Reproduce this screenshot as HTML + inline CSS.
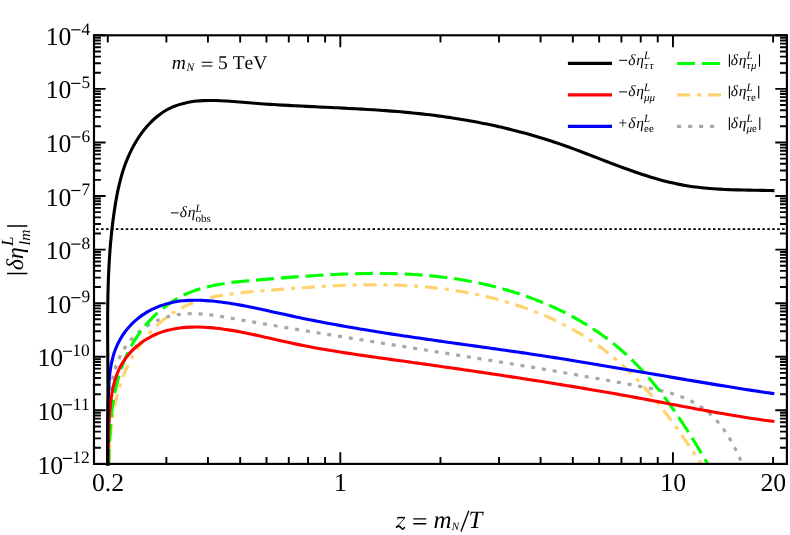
<!DOCTYPE html>
<html><head><meta charset="utf-8"><title>plot</title>
<style>
html,body{margin:0;padding:0;background:#fff}
body{width:790px;height:535px;overflow:hidden}
svg{display:block;will-change:transform}
text{font-family:"Liberation Serif",serif;fill:#000;text-rendering:geometricPrecision}
.i{font-style:italic}
.k{stroke:#000;fill:none}
</style></head><body>
<svg width="790" height="535" viewBox="0 0 790 535">
<rect width="790" height="535" fill="#fff"/>
<defs><clipPath id="c"><rect x="94.0" y="35.3" width="692.9" height="430.2"/></clipPath></defs>
<g clip-path="url(#c)" fill="none" stroke-linejoin="round">
<path d="M107.90 466.50 C107.91 465.48 107.92 462.41 107.94 460.37 C107.97 458.34 108.00 456.31 108.03 454.28 C108.07 452.26 108.11 450.24 108.16 448.22 C108.21 446.20 108.26 444.19 108.32 442.18 C108.38 440.16 108.44 438.15 108.51 436.13 C108.57 434.12 108.64 432.10 108.71 430.08 C108.78 428.06 108.85 426.03 108.92 424.00 C109.00 421.97 109.07 419.93 109.14 417.89 C109.22 415.84 109.29 413.79 109.38 411.74 C109.47 409.69 109.56 407.63 109.67 405.57 C109.79 403.52 109.91 401.47 110.07 399.42 C110.22 397.37 110.39 395.32 110.60 393.29 C110.81 391.26 111.04 389.23 111.32 387.21 C111.60 385.20 111.90 383.20 112.26 381.21 C112.62 379.23 113.02 377.25 113.48 375.30 C113.93 373.35 114.43 371.42 115.00 369.51 C115.57 367.60 116.19 365.71 116.87 363.86 C117.56 362.00 118.31 360.16 119.13 358.37 C119.94 356.57 120.82 354.80 121.77 353.07 C122.71 351.33 123.72 349.64 124.79 347.98 C125.86 346.33 127.00 344.71 128.20 343.15 C129.41 341.58 130.68 340.05 132.01 338.58 C133.34 337.11 134.74 335.69 136.21 334.32 C137.67 332.96 139.21 331.64 140.80 330.39 C142.40 329.14 144.07 327.94 145.77 326.82 C147.48 325.69 149.25 324.62 151.06 323.63 C152.86 322.63 154.71 321.70 156.58 320.85 C158.46 320.00 160.37 319.22 162.29 318.52 C164.21 317.81 166.16 317.19 168.11 316.65 C170.06 316.11 172.02 315.65 173.99 315.27 C175.95 314.88 177.93 314.58 179.90 314.34 C181.88 314.10 183.86 313.94 185.85 313.83 C187.84 313.71 189.83 313.67 191.83 313.67 C193.83 313.67 195.83 313.73 197.84 313.83 C199.84 313.93 201.85 314.08 203.86 314.26 C205.87 314.44 207.89 314.66 209.91 314.90 C211.92 315.15 213.94 315.43 215.96 315.73 C217.98 316.02 220.01 316.35 222.03 316.67 C224.05 317.00 226.07 317.36 228.10 317.70 C230.12 318.05 232.14 318.41 234.17 318.77 C236.19 319.12 238.21 319.47 240.23 319.82 C242.25 320.18 244.27 320.53 246.29 320.88 C248.31 321.23 250.33 321.57 252.35 321.92 C254.37 322.27 256.39 322.61 258.41 322.96 C260.43 323.30 262.44 323.65 264.46 323.99 C266.48 324.33 268.49 324.67 270.51 325.01 C272.52 325.35 274.54 325.69 276.55 326.03 C278.57 326.37 280.58 326.71 282.59 327.05 C284.61 327.38 286.62 327.72 288.63 328.05 C290.65 328.39 292.66 328.72 294.67 329.05 C296.68 329.39 298.69 329.72 300.70 330.05 C302.71 330.38 304.72 330.71 306.73 331.04 C308.74 331.37 310.75 331.70 312.76 332.03 C314.77 332.36 316.78 332.68 318.78 333.01 C320.79 333.34 322.80 333.66 324.81 333.99 C326.81 334.31 328.82 334.64 330.83 334.96 C332.83 335.29 334.84 335.61 336.84 335.93 C338.85 336.26 340.85 336.58 342.86 336.90 C344.86 337.22 346.87 337.54 348.87 337.86 C350.87 338.19 352.88 338.51 354.88 338.83 C356.88 339.15 358.89 339.47 360.89 339.79 C362.89 340.10 364.89 340.42 366.90 340.74 C368.90 341.06 370.90 341.38 372.90 341.70 C374.90 342.02 376.90 342.33 378.90 342.65 C380.90 342.97 382.91 343.29 384.91 343.60 C386.91 343.92 388.91 344.24 390.91 344.55 C392.91 344.87 394.90 345.19 396.90 345.50 C398.90 345.82 400.90 346.14 402.90 346.45 C404.90 346.77 406.90 347.08 408.90 347.40 C410.89 347.72 412.89 348.03 414.89 348.35 C416.89 348.66 418.89 348.98 420.88 349.30 C422.88 349.61 424.88 349.93 426.88 350.25 C428.87 350.56 430.87 350.88 432.87 351.20 C434.86 351.51 436.86 351.83 438.86 352.15 C440.85 352.46 442.85 352.78 444.85 353.10 C446.84 353.41 448.84 353.73 450.84 354.05 C452.83 354.37 454.83 354.69 456.82 355.01 C458.82 355.32 460.82 355.64 462.81 355.96 C464.81 356.28 466.80 356.60 468.80 356.92 C470.79 357.24 472.79 357.56 474.79 357.88 C476.78 358.20 478.78 358.53 480.77 358.85 C482.77 359.17 484.76 359.49 486.76 359.81 C488.75 360.14 490.75 360.46 492.75 360.78 C494.74 361.11 496.74 361.43 498.73 361.76 C500.73 362.08 502.72 362.41 504.72 362.74 C506.71 363.06 508.71 363.39 510.70 363.72 C512.70 364.05 514.70 364.38 516.69 364.71 C518.69 365.03 520.68 365.36 522.68 365.70 C524.67 366.03 526.67 366.36 528.67 366.69 C530.66 367.02 532.66 367.36 534.65 367.69 C536.65 368.03 538.65 368.36 540.64 368.70 C542.64 369.04 544.64 369.37 546.63 369.71 C548.63 370.05 550.63 370.39 552.62 370.73 C554.62 371.07 556.62 371.41 558.61 371.75 C560.61 372.10 562.61 372.44 564.61 372.78 C566.60 373.13 568.60 373.47 570.60 373.82 C572.60 374.17 574.60 374.52 576.59 374.86 C578.59 375.21 580.59 375.56 582.59 375.92 C584.59 376.27 586.59 376.62 588.59 376.98 C590.59 377.33 592.59 377.68 594.59 378.04 C596.58 378.40 598.58 378.76 600.59 379.12 C602.59 379.48 604.59 379.84 606.59 380.20 C608.59 380.56 610.59 380.93 612.59 381.29 C614.59 381.66 616.59 382.02 618.59 382.39 C620.60 382.76 622.60 383.13 624.60 383.50 C626.60 383.87 628.61 384.25 630.61 384.62 C632.61 384.99 634.62 385.37 636.62 385.75 C638.62 386.13 640.63 386.50 642.63 386.89 C644.64 387.27 646.64 387.65 648.64 388.05 C650.64 388.45 652.64 388.85 654.62 389.27 C656.61 389.70 658.60 390.13 660.57 390.60 C662.54 391.06 664.50 391.54 666.45 392.05 C668.39 392.57 670.33 393.10 672.24 393.68 C674.16 394.26 676.06 394.87 677.94 395.53 C679.82 396.18 681.69 396.87 683.52 397.62 C685.36 398.36 687.18 399.15 688.97 399.99 C690.76 400.84 692.52 401.73 694.25 402.69 C695.99 403.65 697.69 404.67 699.36 405.75 C701.03 406.84 702.68 407.99 704.28 409.21 C705.88 410.42 707.45 411.71 708.98 413.04 C710.51 414.38 712.00 415.78 713.45 417.23 C714.89 418.68 716.30 420.19 717.66 421.73 C719.02 423.28 720.34 424.88 721.60 426.52 C722.87 428.15 724.09 429.84 725.26 431.54 C726.43 433.25 727.55 435.01 728.64 436.77 C729.72 438.54 730.76 440.34 731.77 442.14 C732.77 443.95 733.73 445.78 734.67 447.61 C735.60 449.43 736.50 451.28 737.37 453.11 C738.25 454.94 739.09 456.77 739.91 458.59 C740.73 460.41 741.90 463.10 742.30 464.00" stroke="#a8a8a8" stroke-width="3.2" stroke-dasharray="4 6.87" stroke-dashoffset="0"/>
<path d="M108.73 466.50 C108.77 465.49 108.87 462.46 108.95 460.43 C109.03 458.41 109.12 456.38 109.22 454.35 C109.32 452.33 109.43 450.30 109.55 448.27 C109.67 446.24 109.81 444.21 109.95 442.18 C110.10 440.16 110.27 438.13 110.45 436.10 C110.63 434.08 110.82 432.05 111.04 430.03 C111.25 428.01 111.49 426.00 111.74 423.98 C112.00 421.97 112.27 419.96 112.57 417.95 C112.87 415.95 113.19 413.95 113.54 411.95 C113.89 409.96 114.26 407.97 114.66 405.98 C115.06 404.00 115.48 402.03 115.94 400.06 C116.40 398.09 116.88 396.13 117.40 394.18 C117.92 392.23 118.47 390.28 119.05 388.35 C119.63 386.42 120.25 384.49 120.90 382.58 C121.55 380.67 122.24 378.76 122.97 376.87 C123.69 374.98 124.46 373.10 125.26 371.24 C126.07 369.37 126.91 367.52 127.80 365.68 C128.68 363.84 129.61 362.01 130.58 360.20 C131.55 358.39 132.57 356.59 133.62 354.82 C134.67 353.05 135.76 351.29 136.89 349.56 C138.02 347.83 139.19 346.12 140.40 344.44 C141.60 342.76 142.85 341.11 144.12 339.48 C145.40 337.86 146.71 336.27 148.06 334.71 C149.40 333.15 150.78 331.62 152.20 330.14 C153.61 328.65 155.05 327.20 156.52 325.79 C158.00 324.39 159.50 323.02 161.03 321.70 C162.57 320.38 164.13 319.10 165.71 317.87 C167.30 316.65 168.92 315.47 170.56 314.34 C172.20 313.22 173.87 312.15 175.56 311.13 C177.25 310.12 178.96 309.16 180.70 308.25 C182.43 307.35 184.19 306.50 185.97 305.69 C187.75 304.89 189.55 304.13 191.37 303.42 C193.19 302.71 195.03 302.05 196.88 301.42 C198.74 300.80 200.61 300.22 202.50 299.67 C204.39 299.13 206.29 298.62 208.21 298.15 C210.13 297.67 212.06 297.24 214.01 296.83 C215.95 296.41 217.91 296.04 219.88 295.68 C221.85 295.33 223.83 295.00 225.82 294.70 C227.81 294.39 229.81 294.11 231.82 293.85 C233.83 293.58 235.84 293.34 237.86 293.11 C239.88 292.88 241.91 292.67 243.95 292.46 C245.98 292.26 248.02 292.07 250.05 291.88 C252.09 291.70 254.14 291.52 256.18 291.35 C258.23 291.18 260.27 291.01 262.32 290.84 C264.36 290.67 266.41 290.50 268.46 290.33 C270.50 290.16 272.55 290.00 274.59 289.83 C276.64 289.66 278.69 289.50 280.73 289.34 C282.78 289.17 284.82 289.01 286.87 288.86 C288.91 288.70 290.96 288.54 293.01 288.39 C295.05 288.23 297.10 288.08 299.14 287.94 C301.19 287.79 303.23 287.64 305.27 287.50 C307.32 287.36 309.36 287.23 311.41 287.09 C313.45 286.96 315.50 286.83 317.54 286.71 C319.58 286.58 321.63 286.46 323.67 286.35 C325.71 286.24 327.75 286.13 329.79 286.02 C331.84 285.92 333.88 285.82 335.92 285.73 C337.96 285.63 340.00 285.55 342.04 285.47 C344.08 285.39 346.12 285.31 348.16 285.25 C350.20 285.18 352.24 285.12 354.28 285.07 C356.32 285.01 358.35 284.97 360.39 284.93 C362.43 284.89 364.47 284.86 366.50 284.84 C368.54 284.82 370.57 284.80 372.61 284.80 C374.64 284.79 376.68 284.80 378.71 284.81 C380.74 284.82 382.78 284.84 384.81 284.87 C386.84 284.90 388.87 284.94 390.90 285.00 C392.93 285.05 394.96 285.11 396.99 285.18 C399.02 285.25 401.05 285.33 403.07 285.42 C405.10 285.52 407.13 285.62 409.15 285.73 C411.18 285.85 413.20 285.98 415.23 286.11 C417.25 286.25 419.27 286.40 421.29 286.56 C423.32 286.73 425.34 286.90 427.36 287.09 C429.38 287.27 431.40 287.47 433.41 287.69 C435.43 287.90 437.45 288.13 439.46 288.37 C441.48 288.61 443.49 288.86 445.51 289.13 C447.52 289.39 449.53 289.67 451.54 289.97 C453.55 290.27 455.56 290.58 457.57 290.90 C459.57 291.22 461.58 291.56 463.58 291.91 C465.58 292.27 467.58 292.63 469.58 293.02 C471.57 293.40 473.57 293.80 475.56 294.21 C477.55 294.62 479.53 295.05 481.51 295.49 C483.50 295.93 485.48 296.39 487.45 296.86 C489.43 297.33 491.40 297.82 493.36 298.32 C495.33 298.82 497.29 299.34 499.25 299.88 C501.20 300.41 503.15 300.96 505.10 301.53 C507.04 302.09 508.98 302.68 510.92 303.27 C512.85 303.87 514.78 304.49 516.70 305.12 C518.63 305.75 520.54 306.39 522.45 307.06 C524.36 307.72 526.26 308.40 528.16 309.10 C530.06 309.79 531.95 310.51 533.83 311.24 C535.71 311.97 537.58 312.71 539.45 313.48 C541.31 314.24 543.17 315.02 545.02 315.82 C546.87 316.62 548.71 317.43 550.54 318.27 C552.38 319.10 554.20 319.95 556.02 320.82 C557.83 321.69 559.64 322.57 561.43 323.48 C563.23 324.38 565.02 325.30 566.79 326.24 C568.57 327.18 570.34 328.14 572.09 329.12 C573.85 330.09 575.59 331.09 577.33 332.10 C579.06 333.11 580.79 334.14 582.50 335.19 C584.22 336.24 585.92 337.31 587.61 338.40 C589.30 339.49 590.98 340.59 592.65 341.72 C594.31 342.85 595.97 343.99 597.61 345.15 C599.25 346.32 600.88 347.50 602.50 348.70 C604.12 349.91 605.72 351.13 607.31 352.37 C608.91 353.61 610.48 354.87 612.05 356.15 C613.61 357.44 615.16 358.74 616.70 360.06 C618.24 361.38 619.76 362.72 621.27 364.08 C622.78 365.44 624.27 366.82 625.76 368.21 C627.24 369.61 628.71 371.02 630.16 372.45 C631.62 373.88 633.06 375.33 634.49 376.79 C635.92 378.25 637.34 379.73 638.75 381.22 C640.15 382.71 641.55 384.22 642.93 385.74 C644.31 387.26 645.68 388.79 647.03 390.33 C648.39 391.88 649.74 393.43 651.07 395.00 C652.40 396.57 653.73 398.14 655.04 399.73 C656.35 401.32 657.65 402.91 658.94 404.52 C660.23 406.12 661.51 407.74 662.77 409.36 C664.04 410.98 665.30 412.61 666.55 414.24 C667.80 415.87 669.03 417.52 670.26 419.16 C671.49 420.81 672.71 422.46 673.91 424.11 C675.12 425.77 676.32 427.43 677.51 429.09 C678.70 430.75 679.88 432.41 681.06 434.08 C682.23 435.74 683.40 437.41 684.55 439.08 C685.71 440.75 686.86 442.42 688.00 444.08 C689.15 445.75 690.28 447.42 691.41 449.09 C692.54 450.75 693.66 452.42 694.77 454.08 C695.89 455.74 697.00 457.40 698.10 459.05 C699.21 460.70 700.85 463.17 701.40 464.00" stroke="#ffd470" stroke-width="3.2" stroke-dasharray="13.1 6.8 4.1 6.8" stroke-dashoffset="1.5"/>
<path d="M108.53 466.50 C108.57 465.49 108.72 462.47 108.81 460.46 C108.90 458.45 108.98 456.44 109.06 454.42 C109.15 452.41 109.22 450.40 109.31 448.38 C109.39 446.37 109.47 444.36 109.56 442.34 C109.65 440.33 109.74 438.31 109.84 436.30 C109.95 434.28 110.06 432.27 110.19 430.26 C110.31 428.24 110.45 426.23 110.60 424.21 C110.76 422.20 110.93 420.18 111.12 418.17 C111.31 416.15 111.52 414.14 111.76 412.12 C111.99 410.11 112.25 408.09 112.53 406.08 C112.82 404.07 113.12 402.06 113.46 400.06 C113.79 398.06 114.15 396.06 114.54 394.06 C114.93 392.07 115.34 390.08 115.79 388.10 C116.23 386.12 116.71 384.15 117.22 382.19 C117.72 380.23 118.26 378.28 118.83 376.34 C119.40 374.40 120.00 372.47 120.64 370.55 C121.28 368.63 121.95 366.73 122.66 364.84 C123.37 362.96 124.12 361.08 124.90 359.23 C125.69 357.37 126.51 355.53 127.37 353.71 C128.23 351.89 129.13 350.08 130.07 348.30 C131.01 346.52 132.00 344.76 133.02 343.02 C134.05 341.28 135.12 339.56 136.23 337.87 C137.34 336.17 138.49 334.50 139.67 332.86 C140.86 331.22 142.09 329.61 143.36 328.02 C144.62 326.44 145.92 324.88 147.26 323.36 C148.60 321.84 149.97 320.35 151.38 318.90 C152.78 317.45 154.22 316.03 155.69 314.65 C157.16 313.27 158.67 311.92 160.20 310.62 C161.73 309.32 163.29 308.06 164.88 306.84 C166.47 305.62 168.09 304.45 169.74 303.32 C171.38 302.19 173.06 301.10 174.75 300.07 C176.45 299.04 178.17 298.05 179.91 297.11 C181.65 296.18 183.42 295.29 185.20 294.46 C186.99 293.63 188.80 292.86 190.62 292.13 C192.45 291.40 194.29 290.72 196.16 290.09 C198.02 289.45 199.90 288.87 201.80 288.32 C203.69 287.77 205.60 287.26 207.53 286.79 C209.45 286.31 211.39 285.88 213.34 285.48 C215.30 285.07 217.26 284.70 219.23 284.35 C221.21 284.01 223.19 283.69 225.19 283.40 C227.18 283.10 229.18 282.83 231.19 282.58 C233.20 282.32 235.22 282.09 237.24 281.87 C239.26 281.65 241.29 281.45 243.32 281.25 C245.35 281.05 247.38 280.87 249.42 280.69 C251.45 280.50 253.49 280.33 255.53 280.16 C257.57 279.98 259.61 279.81 261.64 279.64 C263.68 279.47 265.72 279.29 267.76 279.12 C269.79 278.95 271.83 278.78 273.87 278.61 C275.90 278.45 277.94 278.28 279.98 278.11 C282.01 277.95 284.05 277.79 286.08 277.62 C288.12 277.46 290.16 277.31 292.19 277.15 C294.22 277.00 296.26 276.84 298.29 276.69 C300.33 276.54 302.36 276.40 304.39 276.25 C306.43 276.11 308.46 275.97 310.49 275.84 C312.52 275.70 314.55 275.57 316.58 275.44 C318.61 275.32 320.65 275.20 322.67 275.08 C324.70 274.96 326.73 274.85 328.76 274.74 C330.79 274.63 332.82 274.53 334.85 274.44 C336.87 274.34 338.90 274.25 340.92 274.16 C342.95 274.08 344.98 274.00 347.00 273.93 C349.02 273.86 351.05 273.79 353.07 273.73 C355.09 273.68 357.11 273.62 359.14 273.58 C361.16 273.54 363.18 273.50 365.20 273.47 C367.22 273.44 369.23 273.42 371.25 273.41 C373.27 273.39 375.29 273.39 377.30 273.39 C379.32 273.40 381.33 273.41 383.35 273.43 C385.36 273.45 387.37 273.48 389.39 273.52 C391.40 273.56 393.41 273.61 395.42 273.67 C397.43 273.73 399.44 273.80 401.45 273.88 C403.45 273.95 405.46 274.04 407.46 274.14 C409.47 274.24 411.47 274.35 413.48 274.48 C415.48 274.60 417.48 274.73 419.48 274.88 C421.48 275.02 423.48 275.18 425.48 275.34 C427.48 275.51 429.48 275.69 431.47 275.88 C433.47 276.08 435.46 276.28 437.46 276.50 C439.45 276.72 441.44 276.94 443.43 277.19 C445.42 277.43 447.41 277.69 449.40 277.96 C451.39 278.23 453.37 278.51 455.36 278.81 C457.34 279.11 459.33 279.42 461.31 279.74 C463.29 280.07 465.27 280.41 467.25 280.77 C469.23 281.12 471.21 281.49 473.18 281.88 C475.16 282.26 477.13 282.66 479.10 283.08 C481.07 283.49 483.04 283.92 485.01 284.37 C486.97 284.81 488.93 285.28 490.89 285.75 C492.85 286.23 494.81 286.72 496.76 287.23 C498.71 287.74 500.66 288.26 502.61 288.80 C504.55 289.34 506.49 289.89 508.42 290.46 C510.36 291.03 512.29 291.62 514.21 292.22 C516.14 292.82 518.06 293.44 519.97 294.07 C521.88 294.71 523.79 295.36 525.70 296.03 C527.60 296.69 529.49 297.38 531.38 298.08 C533.27 298.78 535.15 299.49 537.03 300.23 C538.90 300.96 540.77 301.71 542.63 302.47 C544.49 303.24 546.35 304.02 548.19 304.82 C550.04 305.62 551.87 306.44 553.70 307.27 C555.53 308.11 557.35 308.96 559.16 309.83 C560.97 310.69 562.78 311.58 564.57 312.48 C566.36 313.38 568.14 314.30 569.92 315.24 C571.69 316.18 573.46 317.13 575.21 318.11 C576.96 319.08 578.70 320.07 580.44 321.08 C582.17 322.08 583.89 323.11 585.60 324.15 C587.31 325.20 589.01 326.26 590.69 327.34 C592.38 328.42 594.06 329.52 595.72 330.63 C597.38 331.75 599.03 332.88 600.67 334.04 C602.31 335.19 603.93 336.36 605.55 337.55 C607.16 338.74 608.76 339.95 610.34 341.18 C611.93 342.40 613.50 343.65 615.06 344.91 C616.62 346.18 618.16 347.46 619.69 348.76 C621.22 350.06 622.73 351.38 624.23 352.73 C625.73 354.07 627.22 355.43 628.69 356.80 C630.15 358.18 631.61 359.58 633.05 361.00 C634.49 362.41 635.91 363.85 637.32 365.30 C638.73 366.75 640.12 368.21 641.51 369.70 C642.89 371.18 644.25 372.68 645.61 374.19 C646.96 375.71 648.30 377.23 649.63 378.78 C650.95 380.32 652.26 381.87 653.56 383.44 C654.87 385.01 656.15 386.59 657.43 388.18 C658.70 389.78 659.96 391.38 661.21 393.00 C662.46 394.61 663.70 396.24 664.93 397.87 C666.15 399.50 667.37 401.15 668.57 402.80 C669.77 404.45 670.97 406.11 672.15 407.78 C673.33 409.45 674.50 411.12 675.66 412.80 C676.82 414.48 677.97 416.17 679.11 417.86 C680.25 419.55 681.37 421.25 682.49 422.95 C683.61 424.65 684.72 426.36 685.82 428.07 C686.92 429.77 688.01 431.49 689.10 433.20 C690.18 434.91 691.25 436.63 692.32 438.34 C693.38 440.06 694.44 441.77 695.49 443.49 C696.53 445.20 697.57 446.92 698.61 448.63 C699.64 450.35 700.66 452.06 701.68 453.77 C702.70 455.48 703.71 457.19 704.71 458.90 C705.71 460.60 707.20 463.15 707.70 464.00" stroke="#00ff00" stroke-width="3.1" stroke-dasharray="18 6.8" stroke-dashoffset="0.5"/>
<path d="M107.50 466.50 C107.50 465.49 107.52 462.44 107.54 460.42 C107.55 458.39 107.56 456.38 107.58 454.36 C107.59 452.34 107.60 450.33 107.62 448.31 C107.63 446.30 107.65 444.29 107.66 442.28 C107.68 440.27 107.70 438.26 107.71 436.25 C107.73 434.24 107.75 432.23 107.77 430.21 C107.80 428.20 107.82 426.19 107.85 424.17 C107.87 422.16 107.90 420.14 107.93 418.12 C107.96 416.10 108.00 414.07 108.03 412.04 C108.07 410.01 108.11 407.98 108.16 405.94 C108.20 403.90 108.25 401.86 108.30 399.81 C108.36 397.76 108.41 395.70 108.48 393.64 C108.55 391.58 108.63 389.52 108.73 387.46 C108.84 385.40 108.96 383.34 109.11 381.29 C109.27 379.24 109.44 377.20 109.66 375.17 C109.89 373.14 110.14 371.11 110.44 369.11 C110.75 367.11 111.09 365.11 111.49 363.15 C111.90 361.18 112.35 359.22 112.87 357.30 C113.39 355.38 113.96 353.47 114.61 351.60 C115.26 349.73 115.98 347.88 116.78 346.07 C117.58 344.26 118.45 342.48 119.39 340.74 C120.32 339.00 121.34 337.30 122.42 335.64 C123.50 333.98 124.65 332.36 125.86 330.78 C127.08 329.21 128.36 327.68 129.71 326.21 C131.06 324.73 132.47 323.30 133.95 321.93 C135.43 320.56 136.97 319.24 138.57 317.99 C140.17 316.73 141.84 315.53 143.54 314.40 C145.25 313.27 147.02 312.19 148.81 311.19 C150.60 310.19 152.43 309.25 154.28 308.39 C156.13 307.53 158.00 306.74 159.88 306.03 C161.76 305.32 163.64 304.68 165.54 304.12 C167.43 303.55 169.33 303.06 171.23 302.64 C173.14 302.21 175.05 301.85 176.96 301.54 C178.88 301.24 180.80 301.00 182.73 300.80 C184.65 300.61 186.59 300.47 188.52 300.38 C190.46 300.28 192.40 300.24 194.35 300.23 C196.30 300.22 198.25 300.26 200.21 300.32 C202.16 300.39 204.12 300.49 206.09 300.62 C208.05 300.75 210.02 300.90 211.99 301.08 C213.97 301.26 215.94 301.47 217.92 301.70 C219.90 301.92 221.88 302.17 223.87 302.44 C225.85 302.71 227.84 303.01 229.83 303.31 C231.83 303.62 233.82 303.95 235.82 304.29 C237.81 304.63 239.81 304.99 241.81 305.36 C243.81 305.73 245.82 306.12 247.82 306.51 C249.82 306.91 251.83 307.32 253.84 307.73 C255.85 308.15 257.86 308.57 259.86 309.00 C261.87 309.43 263.89 309.87 265.90 310.31 C267.91 310.75 269.92 311.19 271.93 311.64 C273.95 312.08 275.96 312.53 277.97 312.98 C279.99 313.42 282.00 313.87 284.01 314.31 C286.02 314.76 288.04 315.20 290.05 315.63 C292.06 316.07 294.07 316.50 296.08 316.92 C298.09 317.35 300.10 317.76 302.11 318.18 C304.12 318.59 306.13 319.00 308.13 319.41 C310.14 319.81 312.15 320.21 314.16 320.61 C316.16 321.00 318.17 321.39 320.17 321.78 C322.18 322.17 324.19 322.55 326.19 322.93 C328.19 323.31 330.20 323.68 332.20 324.05 C334.20 324.42 336.21 324.78 338.21 325.14 C340.21 325.51 342.21 325.86 344.21 326.22 C346.22 326.57 348.22 326.92 350.22 327.27 C352.22 327.62 354.22 327.96 356.22 328.30 C358.21 328.64 360.21 328.98 362.21 329.31 C364.21 329.64 366.21 329.97 368.20 330.30 C370.20 330.63 372.20 330.95 374.19 331.28 C376.19 331.60 378.19 331.92 380.18 332.23 C382.18 332.55 384.17 332.86 386.17 333.17 C388.16 333.48 390.16 333.79 392.15 334.10 C394.15 334.41 396.14 334.71 398.13 335.01 C400.13 335.31 402.12 335.61 404.11 335.91 C406.10 336.21 408.10 336.51 410.09 336.80 C412.08 337.09 414.07 337.39 416.06 337.68 C418.05 337.97 420.04 338.26 422.03 338.55 C424.02 338.83 426.01 339.12 428.00 339.41 C429.99 339.69 431.98 339.98 433.97 340.26 C435.96 340.54 437.95 340.82 439.94 341.11 C441.93 341.39 443.92 341.67 445.91 341.95 C447.89 342.23 449.88 342.51 451.87 342.78 C453.86 343.06 455.84 343.34 457.83 343.62 C459.82 343.90 461.81 344.17 463.79 344.45 C465.78 344.73 467.77 345.00 469.75 345.28 C471.74 345.56 473.73 345.83 475.71 346.11 C477.70 346.39 479.68 346.67 481.67 346.94 C483.66 347.22 485.64 347.50 487.63 347.78 C489.61 348.06 491.60 348.34 493.58 348.62 C495.57 348.90 497.55 349.18 499.54 349.46 C501.52 349.74 503.51 350.02 505.49 350.31 C507.48 350.59 509.46 350.87 511.45 351.16 C513.43 351.45 515.42 351.73 517.40 352.02 C519.39 352.31 521.37 352.60 523.35 352.89 C525.34 353.18 527.32 353.48 529.31 353.77 C531.29 354.07 533.28 354.36 535.26 354.66 C537.25 354.96 539.23 355.26 541.21 355.56 C543.20 355.86 545.18 356.17 547.17 356.48 C549.15 356.78 551.14 357.09 553.12 357.40 C555.10 357.71 557.09 358.03 559.07 358.34 C561.06 358.65 563.04 358.97 565.03 359.29 C567.01 359.61 569.00 359.92 570.98 360.25 C572.96 360.57 574.95 360.89 576.93 361.21 C578.92 361.54 580.90 361.86 582.89 362.19 C584.87 362.51 586.86 362.84 588.84 363.17 C590.83 363.50 592.82 363.83 594.80 364.16 C596.79 364.49 598.77 364.82 600.76 365.16 C602.74 365.49 604.73 365.82 606.72 366.16 C608.70 366.49 610.69 366.83 612.68 367.17 C614.66 367.50 616.65 367.84 618.64 368.18 C620.62 368.52 622.61 368.85 624.60 369.19 C626.58 369.53 628.57 369.87 630.56 370.21 C632.55 370.55 634.54 370.89 636.52 371.23 C638.51 371.57 640.50 371.91 642.49 372.25 C644.48 372.59 646.47 372.93 648.46 373.28 C650.45 373.62 652.44 373.96 654.43 374.30 C656.42 374.64 658.41 374.98 660.40 375.32 C662.39 375.66 664.38 376.00 666.37 376.34 C668.36 376.68 670.35 377.02 672.34 377.36 C674.34 377.70 676.33 378.04 678.32 378.37 C680.31 378.71 682.31 379.05 684.30 379.39 C686.29 379.72 688.29 380.06 690.28 380.40 C692.27 380.73 694.27 381.07 696.26 381.40 C698.26 381.73 700.25 382.07 702.25 382.40 C704.24 382.73 706.24 383.06 708.24 383.39 C710.23 383.72 712.23 384.05 714.23 384.38 C716.23 384.70 718.22 385.03 720.22 385.35 C722.22 385.68 724.22 386.00 726.22 386.32 C728.22 386.64 730.22 386.96 732.22 387.28 C734.22 387.60 736.22 387.92 738.22 388.23 C740.22 388.55 742.22 388.86 744.22 389.18 C746.23 389.49 748.23 389.80 750.23 390.10 C752.24 390.41 754.24 390.72 756.25 391.02 C758.25 391.33 760.25 391.63 762.26 391.93 C764.27 392.23 766.27 392.53 768.28 392.82 C770.29 393.12 773.30 393.55 774.30 393.70" stroke="#0000ff" stroke-width="3.1"/>
<path d="M107.79 466.49 C107.81 465.48 107.89 462.47 107.93 460.45 C107.97 458.43 108.01 456.41 108.05 454.39 C108.08 452.37 108.12 450.35 108.15 448.32 C108.19 446.30 108.23 444.27 108.27 442.24 C108.32 440.21 108.37 438.18 108.42 436.15 C108.48 434.12 108.54 432.09 108.62 430.05 C108.70 428.02 108.78 425.99 108.89 423.96 C108.99 421.93 109.10 419.90 109.24 417.87 C109.37 415.84 109.52 413.82 109.69 411.79 C109.87 409.77 110.05 407.74 110.27 405.72 C110.49 403.70 110.72 401.68 111.00 399.67 C111.27 397.66 111.56 395.65 111.91 393.66 C112.25 391.67 112.62 389.68 113.05 387.72 C113.49 385.76 113.96 383.81 114.49 381.89 C115.03 379.96 115.62 378.06 116.28 376.19 C116.94 374.32 117.66 372.47 118.46 370.67 C119.26 368.86 120.13 367.08 121.09 365.34 C122.05 363.61 123.09 361.91 124.21 360.26 C125.33 358.61 126.54 357.00 127.81 355.44 C129.08 353.89 130.43 352.37 131.83 350.92 C133.24 349.47 134.71 348.07 136.23 346.74 C137.75 345.41 139.33 344.13 140.95 342.92 C142.58 341.72 144.25 340.57 145.96 339.50 C147.67 338.43 149.42 337.43 151.19 336.51 C152.97 335.59 154.78 334.75 156.61 333.98 C158.45 333.21 160.31 332.52 162.19 331.90 C164.07 331.27 165.98 330.72 167.90 330.23 C169.83 329.73 171.78 329.31 173.74 328.94 C175.70 328.57 177.68 328.27 179.67 328.01 C181.66 327.76 183.67 327.56 185.69 327.41 C187.70 327.26 189.73 327.16 191.77 327.11 C193.80 327.05 195.84 327.04 197.89 327.07 C199.93 327.09 201.99 327.16 204.04 327.27 C206.09 327.37 208.14 327.51 210.19 327.67 C212.24 327.84 214.29 328.03 216.33 328.25 C218.38 328.48 220.42 328.73 222.46 329.00 C224.50 329.27 226.54 329.57 228.57 329.88 C230.61 330.20 232.64 330.53 234.67 330.89 C236.70 331.24 238.73 331.61 240.76 332.00 C242.78 332.39 244.81 332.79 246.83 333.20 C248.85 333.61 250.87 334.04 252.89 334.47 C254.91 334.90 256.93 335.35 258.94 335.80 C260.96 336.24 262.97 336.70 264.98 337.16 C266.99 337.61 269.00 338.08 271.01 338.54 C273.02 339.00 275.02 339.46 277.03 339.91 C279.03 340.37 281.04 340.83 283.04 341.28 C285.04 341.73 287.04 342.17 289.04 342.61 C291.04 343.04 293.04 343.47 295.04 343.88 C297.04 344.30 299.03 344.71 301.03 345.11 C303.02 345.51 305.02 345.90 307.01 346.28 C309.00 346.67 310.99 347.04 312.99 347.41 C314.98 347.78 316.97 348.14 318.96 348.49 C320.95 348.85 322.94 349.20 324.92 349.54 C326.91 349.88 328.90 350.21 330.89 350.54 C332.88 350.87 334.86 351.20 336.85 351.52 C338.84 351.84 340.82 352.15 342.81 352.46 C344.79 352.77 346.78 353.08 348.76 353.38 C350.75 353.68 352.73 353.98 354.72 354.28 C356.70 354.57 358.69 354.86 360.67 355.15 C362.66 355.44 364.64 355.73 366.63 356.01 C368.61 356.30 370.60 356.58 372.58 356.86 C374.57 357.14 376.55 357.42 378.54 357.70 C380.53 357.98 382.51 358.25 384.50 358.53 C386.48 358.81 388.47 359.08 390.46 359.36 C392.45 359.64 394.44 359.91 396.42 360.19 C398.41 360.47 400.40 360.75 402.39 361.03 C404.38 361.30 406.37 361.58 408.36 361.86 C410.35 362.14 412.35 362.42 414.34 362.70 C416.33 362.98 418.32 363.26 420.31 363.54 C422.31 363.82 424.30 364.10 426.29 364.38 C428.29 364.67 430.28 364.95 432.28 365.23 C434.27 365.51 436.27 365.80 438.26 366.08 C440.26 366.36 442.25 366.65 444.25 366.93 C446.25 367.22 448.24 367.51 450.24 367.79 C452.24 368.08 454.23 368.37 456.23 368.65 C458.23 368.94 460.23 369.23 462.23 369.52 C464.23 369.81 466.22 370.10 468.22 370.39 C470.22 370.68 472.22 370.98 474.22 371.27 C476.22 371.56 478.22 371.86 480.22 372.15 C482.22 372.44 484.22 372.74 486.23 373.04 C488.23 373.33 490.23 373.63 492.23 373.93 C494.23 374.23 496.23 374.53 498.23 374.83 C500.24 375.13 502.24 375.43 504.24 375.73 C506.24 376.03 508.25 376.34 510.25 376.64 C512.25 376.95 514.26 377.25 516.26 377.56 C518.26 377.86 520.27 378.17 522.27 378.48 C524.27 378.79 526.28 379.10 528.28 379.41 C530.29 379.72 532.29 380.04 534.29 380.35 C536.30 380.66 538.30 380.98 540.31 381.30 C542.31 381.61 544.32 381.93 546.32 382.25 C548.33 382.57 550.33 382.89 552.34 383.21 C554.34 383.53 556.35 383.85 558.35 384.18 C560.36 384.50 562.36 384.83 564.37 385.16 C566.37 385.48 568.38 385.81 570.38 386.14 C572.39 386.47 574.39 386.81 576.40 387.14 C578.40 387.47 580.41 387.81 582.42 388.14 C584.42 388.48 586.43 388.82 588.43 389.16 C590.44 389.50 592.44 389.84 594.45 390.18 C596.45 390.52 598.46 390.87 600.46 391.21 C602.47 391.56 604.47 391.91 606.48 392.26 C608.48 392.61 610.49 392.96 612.49 393.31 C614.50 393.66 616.50 394.02 618.51 394.38 C620.51 394.73 622.51 395.09 624.52 395.45 C626.52 395.81 628.53 396.17 630.53 396.54 C632.53 396.90 634.54 397.27 636.54 397.64 C638.55 398.00 640.55 398.37 642.55 398.74 C644.56 399.12 646.56 399.49 648.56 399.87 C650.56 400.24 652.57 400.62 654.57 400.99 C656.57 401.37 658.57 401.75 660.58 402.13 C662.58 402.51 664.58 402.89 666.58 403.27 C668.58 403.65 670.58 404.03 672.59 404.41 C674.59 404.79 676.59 405.17 678.59 405.55 C680.59 405.93 682.59 406.31 684.59 406.69 C686.59 407.06 688.59 407.44 690.59 407.81 C692.58 408.19 694.58 408.56 696.58 408.93 C698.58 409.31 700.58 409.68 702.58 410.04 C704.57 410.41 706.57 410.77 708.57 411.14 C710.56 411.50 712.56 411.86 714.56 412.21 C716.55 412.57 718.55 412.92 720.54 413.27 C722.54 413.62 724.53 413.97 726.53 414.31 C728.52 414.65 730.52 414.99 732.51 415.32 C734.50 415.65 736.50 415.98 738.49 416.30 C740.48 416.63 742.47 416.95 744.46 417.26 C746.46 417.57 748.45 417.88 750.44 418.18 C752.43 418.48 754.42 418.78 756.41 419.07 C758.40 419.36 760.39 419.64 762.37 419.92 C764.36 420.20 766.35 420.47 768.34 420.73 C770.33 420.99 773.31 421.37 774.30 421.50" stroke="#ff0000" stroke-width="3.1"/>
<path d="M107.71 466.50 C107.70 465.49 107.67 462.46 107.66 460.44 C107.65 458.42 107.65 456.40 107.64 454.38 C107.64 452.36 107.64 450.34 107.64 448.31 C107.64 446.29 107.65 444.27 107.66 442.25 C107.66 440.23 107.67 438.21 107.68 436.19 C107.69 434.17 107.70 432.15 107.72 430.13 C107.73 428.11 107.74 426.08 107.76 424.06 C107.77 422.04 107.79 420.02 107.80 418.00 C107.81 415.98 107.83 413.96 107.84 411.94 C107.86 409.91 107.87 407.89 107.88 405.87 C107.89 403.85 107.90 401.83 107.91 399.81 C107.92 397.79 107.92 395.77 107.93 393.75 C107.93 391.72 107.93 389.70 107.93 387.68 C107.93 385.66 107.92 383.64 107.92 381.62 C107.91 379.60 107.90 377.58 107.89 375.56 C107.88 373.54 107.87 371.52 107.86 369.50 C107.85 367.47 107.84 365.45 107.82 363.43 C107.81 361.41 107.79 359.39 107.78 357.37 C107.77 355.35 107.75 353.33 107.74 351.31 C107.73 349.29 107.71 347.27 107.70 345.25 C107.69 343.23 107.68 341.21 107.67 339.19 C107.66 337.17 107.65 335.15 107.65 333.13 C107.64 331.11 107.64 329.10 107.64 327.08 C107.64 325.06 107.64 323.04 107.65 321.02 C107.65 319.00 107.66 316.98 107.67 314.96 C107.69 312.94 107.70 310.93 107.72 308.91 C107.74 306.89 107.77 304.87 107.80 302.85 C107.83 300.84 107.86 298.82 107.90 296.80 C107.94 294.78 107.99 292.77 108.04 290.75 C108.09 288.73 108.14 286.72 108.21 284.70 C108.27 282.68 108.34 280.67 108.41 278.65 C108.49 276.63 108.57 274.62 108.66 272.60 C108.75 270.59 108.85 268.57 108.96 266.56 C109.06 264.54 109.18 262.53 109.30 260.51 C109.42 258.50 109.55 256.48 109.69 254.47 C109.83 252.45 109.98 250.44 110.14 248.43 C110.30 246.41 110.46 244.40 110.64 242.38 C110.82 240.37 111.01 238.36 111.21 236.35 C111.40 234.33 111.61 232.32 111.83 230.31 C112.05 228.30 112.28 226.29 112.53 224.27 C112.77 222.26 113.02 220.25 113.29 218.24 C113.56 216.23 113.83 214.22 114.13 212.21 C114.42 210.20 114.72 208.19 115.04 206.18 C115.36 204.17 115.69 202.17 116.04 200.16 C116.40 198.16 116.76 196.16 117.16 194.16 C117.55 192.17 117.96 190.18 118.40 188.19 C118.84 186.21 119.30 184.23 119.79 182.27 C120.29 180.30 120.80 178.34 121.35 176.39 C121.90 174.44 122.48 172.50 123.10 170.57 C123.72 168.64 124.37 166.72 125.05 164.82 C125.74 162.92 126.47 161.03 127.23 159.15 C128.00 157.28 128.81 155.42 129.66 153.58 C130.51 151.74 131.40 149.91 132.35 148.10 C133.29 146.30 134.28 144.51 135.32 142.74 C136.36 140.97 137.45 139.22 138.59 137.50 C139.73 135.78 140.92 134.08 142.16 132.43 C143.39 130.77 144.68 129.15 146.01 127.58 C147.34 126.01 148.72 124.47 150.14 123.01 C151.56 121.54 153.02 120.12 154.52 118.77 C156.03 117.43 157.58 116.14 159.16 114.93 C160.74 113.73 162.37 112.59 164.03 111.54 C165.69 110.49 167.39 109.53 169.12 108.65 C170.85 107.78 172.62 106.99 174.42 106.28 C176.21 105.56 178.04 104.94 179.89 104.37 C181.74 103.81 183.62 103.32 185.52 102.89 C187.42 102.47 189.34 102.11 191.28 101.80 C193.21 101.50 195.17 101.26 197.13 101.06 C199.10 100.86 201.08 100.72 203.07 100.62 C205.06 100.51 207.06 100.46 209.06 100.44 C211.07 100.41 213.08 100.44 215.10 100.48 C217.12 100.52 219.14 100.60 221.17 100.70 C223.20 100.80 225.23 100.92 227.27 101.06 C229.31 101.19 231.35 101.35 233.39 101.51 C235.44 101.67 237.48 101.85 239.53 102.02 C241.58 102.19 243.62 102.37 245.67 102.54 C247.72 102.71 249.76 102.87 251.81 103.03 C253.85 103.19 255.90 103.35 257.94 103.50 C259.99 103.65 262.03 103.79 264.08 103.93 C266.12 104.07 268.16 104.21 270.20 104.34 C272.24 104.47 274.29 104.60 276.33 104.72 C278.37 104.84 280.41 104.96 282.44 105.08 C284.48 105.20 286.52 105.31 288.56 105.42 C290.60 105.53 292.63 105.64 294.67 105.75 C296.70 105.86 298.74 105.96 300.77 106.06 C302.81 106.17 304.84 106.27 306.87 106.37 C308.91 106.47 310.94 106.56 312.97 106.66 C315.00 106.76 317.03 106.85 319.06 106.95 C321.09 107.05 323.11 107.14 325.14 107.24 C327.17 107.34 329.20 107.43 331.22 107.53 C333.25 107.63 335.27 107.72 337.30 107.82 C339.32 107.92 341.34 108.02 343.36 108.12 C345.39 108.22 347.41 108.33 349.43 108.43 C351.45 108.54 353.46 108.64 355.48 108.75 C357.50 108.86 359.52 108.98 361.53 109.09 C363.55 109.21 365.56 109.32 367.58 109.44 C369.59 109.57 371.60 109.69 373.62 109.82 C375.63 109.95 377.64 110.08 379.65 110.22 C381.66 110.35 383.67 110.50 385.67 110.64 C387.68 110.79 389.69 110.94 391.69 111.10 C393.70 111.25 395.70 111.41 397.70 111.58 C399.71 111.75 401.71 111.92 403.71 112.10 C405.71 112.28 407.71 112.47 409.71 112.66 C411.71 112.85 413.70 113.05 415.70 113.26 C417.69 113.46 419.69 113.68 421.68 113.90 C423.68 114.12 425.67 114.34 427.66 114.58 C429.65 114.82 431.64 115.06 433.63 115.31 C435.62 115.56 437.60 115.82 439.59 116.09 C441.57 116.35 443.56 116.63 445.54 116.91 C447.52 117.19 449.51 117.49 451.49 117.78 C453.47 118.08 455.45 118.39 457.42 118.71 C459.40 119.02 461.38 119.35 463.35 119.68 C465.33 120.01 467.30 120.35 469.27 120.70 C471.25 121.06 473.22 121.41 475.19 121.78 C477.16 122.15 479.12 122.53 481.09 122.91 C483.06 123.30 485.02 123.69 486.99 124.10 C488.95 124.50 490.91 124.92 492.87 125.34 C494.83 125.76 496.79 126.20 498.75 126.64 C500.71 127.08 502.66 127.53 504.62 128.00 C506.57 128.46 508.53 128.93 510.48 129.41 C512.43 129.89 514.38 130.39 516.33 130.89 C518.27 131.39 520.22 131.90 522.17 132.42 C524.11 132.95 526.06 133.48 528.00 134.02 C529.94 134.57 531.88 135.12 533.82 135.69 C535.76 136.25 537.69 136.82 539.63 137.41 C541.56 138.00 543.50 138.59 545.43 139.20 C547.36 139.81 549.29 140.43 551.22 141.06 C553.15 141.69 555.08 142.33 557.00 142.98 C558.93 143.64 560.85 144.30 562.77 144.98 C564.70 145.65 566.62 146.34 568.53 147.03 C570.45 147.73 572.37 148.43 574.29 149.14 C576.20 149.85 578.12 150.57 580.03 151.29 C581.95 152.01 583.86 152.74 585.77 153.47 C587.69 154.20 589.60 154.94 591.51 155.67 C593.42 156.41 595.33 157.15 597.24 157.88 C599.15 158.62 601.06 159.36 602.97 160.10 C604.88 160.83 606.79 161.57 608.70 162.30 C610.61 163.03 612.52 163.76 614.43 164.48 C616.35 165.20 618.26 165.92 620.17 166.63 C622.08 167.34 623.99 168.04 625.91 168.74 C627.82 169.43 629.73 170.12 631.65 170.79 C633.56 171.47 635.48 172.13 637.40 172.78 C639.31 173.44 641.23 174.08 643.15 174.71 C645.07 175.33 647.00 175.95 648.92 176.54 C650.84 177.14 652.77 177.72 654.69 178.29 C656.62 178.85 658.55 179.40 660.48 179.93 C662.41 180.45 664.35 180.96 666.28 181.45 C668.22 181.94 670.16 182.41 672.10 182.85 C674.04 183.29 675.98 183.72 677.93 184.11 C679.87 184.51 681.82 184.88 683.77 185.23 C685.72 185.58 687.68 185.90 689.64 186.20 C691.60 186.49 693.56 186.77 695.52 187.02 C697.49 187.27 699.46 187.50 701.43 187.71 C703.40 187.92 705.38 188.11 707.36 188.28 C709.33 188.46 711.32 188.61 713.31 188.76 C715.29 188.90 717.29 189.02 719.28 189.13 C721.28 189.25 723.28 189.35 725.28 189.44 C727.29 189.53 729.30 189.60 731.31 189.68 C733.33 189.75 735.35 189.81 737.37 189.86 C739.40 189.92 741.43 189.97 743.46 190.01 C745.50 190.06 747.54 190.10 749.58 190.14 C751.63 190.18 753.68 190.21 755.73 190.25 C757.79 190.29 759.85 190.32 761.92 190.36 C763.99 190.40 766.06 190.45 768.14 190.49 C770.22 190.54 773.36 190.62 774.40 190.65" stroke="#000" stroke-width="3.1"/>
<path d="M96.1 229.1H786.9" stroke="#000" stroke-width="1.6" stroke-dasharray="2.6 2.335"/>
</g>
<rect x="94.0" y="35.3" width="692.9" height="428.6" fill="none" stroke="#000" stroke-width="2.15"/>
<path d="M94.0 463.90h11.6 M786.9 463.90h-11.6 M94.0 447.77h6.9 M786.9 447.77h-6.9 M94.0 438.34h6.9 M786.9 438.34h-6.9 M94.0 431.64h6.9 M786.9 431.64h-6.9 M94.0 426.45h6.9 M786.9 426.45h-6.9 M94.0 422.21h6.9 M786.9 422.21h-6.9 M94.0 418.62h6.9 M786.9 418.62h-6.9 M94.0 415.52h6.9 M786.9 415.52h-6.9 M94.0 412.78h6.9 M786.9 412.78h-6.9 M94.0 410.32h11.6 M786.9 410.32h-11.6 M94.0 394.20h6.9 M786.9 394.20h-6.9 M94.0 384.76h6.9 M786.9 384.76h-6.9 M94.0 378.07h6.9 M786.9 378.07h-6.9 M94.0 372.88h6.9 M786.9 372.88h-6.9 M94.0 368.64h6.9 M786.9 368.64h-6.9 M94.0 365.05h6.9 M786.9 365.05h-6.9 M94.0 361.94h6.9 M786.9 361.94h-6.9 M94.0 359.20h6.9 M786.9 359.20h-6.9 M94.0 356.75h11.6 M786.9 356.75h-11.6 M94.0 340.62h6.9 M786.9 340.62h-6.9 M94.0 331.19h6.9 M786.9 331.19h-6.9 M94.0 324.49h6.9 M786.9 324.49h-6.9 M94.0 319.30h6.9 M786.9 319.30h-6.9 M94.0 315.06h6.9 M786.9 315.06h-6.9 M94.0 311.47h6.9 M786.9 311.47h-6.9 M94.0 308.37h6.9 M786.9 308.37h-6.9 M94.0 305.63h6.9 M786.9 305.63h-6.9 M94.0 303.18h11.6 M786.9 303.18h-11.6 M94.0 287.05h6.9 M786.9 287.05h-6.9 M94.0 277.61h6.9 M786.9 277.61h-6.9 M94.0 270.92h6.9 M786.9 270.92h-6.9 M94.0 265.73h6.9 M786.9 265.73h-6.9 M94.0 261.49h6.9 M786.9 261.49h-6.9 M94.0 257.90h6.9 M786.9 257.90h-6.9 M94.0 254.79h6.9 M786.9 254.79h-6.9 M94.0 252.05h6.9 M786.9 252.05h-6.9 M94.0 249.60h11.6 M786.9 249.60h-11.6 M94.0 233.47h6.9 M786.9 233.47h-6.9 M94.0 224.04h6.9 M786.9 224.04h-6.9 M94.0 217.34h6.9 M786.9 217.34h-6.9 M94.0 212.15h6.9 M786.9 212.15h-6.9 M94.0 207.91h6.9 M786.9 207.91h-6.9 M94.0 204.32h6.9 M786.9 204.32h-6.9 M94.0 201.22h6.9 M786.9 201.22h-6.9 M94.0 198.48h6.9 M786.9 198.48h-6.9 M94.0 196.02h11.6 M786.9 196.02h-11.6 M94.0 179.90h6.9 M786.9 179.90h-6.9 M94.0 170.46h6.9 M786.9 170.46h-6.9 M94.0 163.77h6.9 M786.9 163.77h-6.9 M94.0 158.58h6.9 M786.9 158.58h-6.9 M94.0 154.34h6.9 M786.9 154.34h-6.9 M94.0 150.75h6.9 M786.9 150.75h-6.9 M94.0 147.64h6.9 M786.9 147.64h-6.9 M94.0 144.90h6.9 M786.9 144.90h-6.9 M94.0 142.45h11.6 M786.9 142.45h-11.6 M94.0 126.32h6.9 M786.9 126.32h-6.9 M94.0 116.89h6.9 M786.9 116.89h-6.9 M94.0 110.19h6.9 M786.9 110.19h-6.9 M94.0 105.00h6.9 M786.9 105.00h-6.9 M94.0 100.76h6.9 M786.9 100.76h-6.9 M94.0 97.17h6.9 M786.9 97.17h-6.9 M94.0 94.07h6.9 M786.9 94.07h-6.9 M94.0 91.33h6.9 M786.9 91.33h-6.9 M94.0 88.88h11.6 M786.9 88.88h-11.6 M94.0 72.75h6.9 M786.9 72.75h-6.9 M94.0 63.31h6.9 M786.9 63.31h-6.9 M94.0 56.62h6.9 M786.9 56.62h-6.9 M94.0 51.43h6.9 M786.9 51.43h-6.9 M94.0 47.19h6.9 M786.9 47.19h-6.9 M94.0 43.60h6.9 M786.9 43.60h-6.9 M94.0 40.49h6.9 M786.9 40.49h-6.9 M94.0 37.75h6.9 M786.9 37.75h-6.9 M94.0 35.30h11.6 M786.9 35.30h-11.6 M107.80 463.9v-6.9 M107.80 35.3v7.3 M166.38 463.9v-6.9 M166.38 35.3v7.3 M207.94 463.9v-6.9 M207.94 35.3v7.3 M240.17 463.9v-6.9 M240.17 35.3v7.3 M266.51 463.9v-6.9 M266.51 35.3v7.3 M288.78 463.9v-6.9 M288.78 35.3v7.3 M308.08 463.9v-6.9 M308.08 35.3v7.3 M325.09 463.9v-6.9 M325.09 35.3v7.3 M340.31 463.9v-11.6 M340.31 35.3v12.0 M440.45 463.9v-6.9 M440.45 35.3v7.3 M499.03 463.9v-6.9 M499.03 35.3v7.3 M540.59 463.9v-6.9 M540.59 35.3v7.3 M572.82 463.9v-6.9 M572.82 35.3v7.3 M599.16 463.9v-6.9 M599.16 35.3v7.3 M621.43 463.9v-6.9 M621.43 35.3v7.3 M640.73 463.9v-6.9 M640.73 35.3v7.3 M657.74 463.9v-6.9 M657.74 35.3v7.3 M672.96 463.9v-11.6 M672.96 35.3v12.0 M773.10 463.9v-6.9 M773.10 35.3v7.3" stroke="#000" stroke-width="1.9" fill="none"/>
<text x="63.10" y="473.50" font-size="25.70" text-anchor="end">10</text>
<text x="89.60" y="463.10" font-size="17.40" text-anchor="end">12</text>
<text x="63.10" y="419.93" font-size="25.70" text-anchor="end">10</text>
<text x="89.60" y="409.53" font-size="17.40" text-anchor="end">11</text>
<text x="63.10" y="366.35" font-size="25.70" text-anchor="end">10</text>
<text x="89.60" y="355.95" font-size="17.40" text-anchor="end">10</text>
<text x="71.40" y="312.78" font-size="25.70" text-anchor="end">10</text>
<text x="90.30" y="302.38" font-size="17.40" text-anchor="end">9</text>
<text x="71.40" y="259.20" font-size="25.70" text-anchor="end">10</text>
<text x="90.30" y="248.80" font-size="17.40" text-anchor="end">8</text>
<text x="71.40" y="205.62" font-size="25.70" text-anchor="end">10</text>
<text x="90.30" y="195.22" font-size="17.40" text-anchor="end">7</text>
<text x="71.40" y="152.05" font-size="25.70" text-anchor="end">10</text>
<text x="90.30" y="141.65" font-size="17.40" text-anchor="end">6</text>
<text x="71.40" y="98.47" font-size="25.70" text-anchor="end">10</text>
<text x="90.30" y="88.07" font-size="17.40" text-anchor="end">5</text>
<text x="71.40" y="44.90" font-size="25.70" text-anchor="end">10</text>
<text x="90.30" y="34.50" font-size="17.40" text-anchor="end">4</text>
<text x="108.00" y="490.70" font-size="25.70" text-anchor="middle">0.2</text>
<text x="340.51" y="490.70" font-size="25.70" text-anchor="middle">1</text>
<text x="673.16" y="490.70" font-size="25.70" text-anchor="middle">10</text>
<text x="773.30" y="490.70" font-size="25.70" text-anchor="middle">20</text>
<g fill="none" stroke="#000" stroke-linecap="round" stroke-linejoin="round"><path d="M397.9 517.6H404.9" stroke-width="1.5" stroke-linecap="butt"/><path d="M397.9 517.3L397.3 519.2" stroke-width="0.7"/><path d="M404.6 518.2L396.5 527.3" stroke-width="0.85"/><path d="M396.7 527.1C397.9 525.9 399.3 526.0 400.5 527.2C401.3 528.1 402.0 529.0 402.8 529.2" stroke-width="1.7"/><path d="M402.8 529.2C403.6 529.3 404.2 528.7 404.4 527.9" stroke-width="0.8"/><circle cx="404.3" cy="527.7" r="0.95" fill="#000" stroke="none"/></g>
<text x="433.40" y="527.50" font-size="25.00" class="i">m</text>
<text x="451.70" y="529.70" font-size="11.00" class="i">N</text>
<text x="468.60" y="527.50" font-size="25.00" class="i">T</text>
<g transform="translate(22.5 274.5) rotate(-90)"><text x="4.20" y="0.00" font-size="24.00" class="i">δ</text>
<text x="15.60" y="0.00" font-size="23.50" class="i">η</text>
<text x="28.40" y="-9.40" font-size="17.00" class="i">L</text>
<text x="29.20" y="7.30" font-size="15.50" class="i" letter-spacing="0.3">lm</text>
<path class="k" d="M1 4.9V-15.4M48.5 4.9V-15.4" stroke-width="1.3"/></g>
<text x="171.80" y="68.90" font-size="19.50" class="i">m</text>
<text x="186.60" y="71.00" font-size="11.50" class="i">N</text>
<text x="218.00" y="68.90" font-size="19.50" style="font-kerning:none">5 TeV</text>
<text x="179.65" y="217.30" font-size="15.50" class="i">δ</text>
<text x="187.75" y="217.30" font-size="15.50" class="i">η</text>
<text x="195.50" y="211.70" font-size="11.00" class="i">L</text>
<text x="195.50" y="221.70" font-size="11.00">obs</text>
<path d="M567.9 63.45H612" stroke="#000" stroke-width="3.2" fill="none"/>
<path d="M567.9 94.90H612" stroke="#ff0000" stroke-width="3.2" fill="none"/>
<path d="M567.9 126.40H612" stroke="#0000ff" stroke-width="3.2" fill="none"/>
<path d="M677.1 63.5H721" stroke="#00ff00" stroke-width="3.1" stroke-dasharray="18 6.8" fill="none"/>
<path d="M677.1 94.9H721" stroke="#ffd470" stroke-width="3.2" stroke-dasharray="13.1 6.8 4.1 6.8" fill="none"/>
<path d="M677.1 126.4H715" stroke="#a8a8a8" stroke-width="3.2" stroke-dasharray="4 7" fill="none"/>
<text x="628.15" y="64.70" font-size="15.50" class="i">δ</text>
<text x="636.25" y="64.70" font-size="15.50" class="i">η</text>
<text x="644.00" y="59.10" font-size="11.00" class="i">L</text>
<text x="644.30" y="69.10" font-size="11.00" class="i" letter-spacing="1.2">ττ</text>
<text x="628.15" y="96.30" font-size="15.50" class="i">δ</text>
<text x="636.25" y="96.30" font-size="15.50" class="i">η</text>
<text x="644.00" y="90.70" font-size="11.00" class="i">L</text>
<text x="644.00" y="100.70" font-size="11.00" class="i">μμ</text>
<text x="628.15" y="127.80" font-size="15.50" class="i">δ</text>
<text x="636.25" y="127.80" font-size="15.50" class="i">η</text>
<text x="644.00" y="122.20" font-size="11.00" class="i">L</text>
<text x="644.00" y="132.20" font-size="11.00">ee</text>
<text x="618.40" y="127.80" font-size="15.50">+</text>
<text x="730.65" y="64.70" font-size="15.50" class="i">δ</text>
<text x="738.75" y="64.70" font-size="15.50" class="i">η</text>
<text x="746.50" y="59.10" font-size="11.00" class="i">L</text>
<text x="746.50" y="69.10" font-size="11.00" class="i" letter-spacing="0.5">τμ</text>
<text x="730.65" y="96.30" font-size="15.50" class="i">δ</text>
<text x="738.75" y="96.30" font-size="15.50" class="i">η</text>
<text x="746.50" y="90.70" font-size="11.00" class="i">L</text>
<text x="746.50" y="100.70" font-size="11.00" class="i" letter-spacing="0.6">τ<tspan font-style="normal">e</tspan></text>
<text x="730.65" y="127.80" font-size="15.50" class="i">δ</text>
<text x="738.75" y="127.80" font-size="15.50" class="i">η</text>
<text x="746.50" y="122.20" font-size="11.00" class="i">L</text>
<text x="746.50" y="132.20" font-size="11.00" class="i">μ<tspan font-style="normal">e</tspan></text>
<path class="k" d="M62.90 458.40H72.10" stroke-width="1.15"/>
<path class="k" d="M62.90 404.82H72.10" stroke-width="1.15"/>
<path class="k" d="M62.90 351.25H72.10" stroke-width="1.15"/>
<path class="k" d="M71.20 297.68H80.40" stroke-width="1.15"/>
<path class="k" d="M71.20 244.10H80.40" stroke-width="1.15"/>
<path class="k" d="M71.20 190.52H80.40" stroke-width="1.15"/>
<path class="k" d="M71.20 136.95H80.40" stroke-width="1.15"/>
<path class="k" d="M71.20 83.38H80.40" stroke-width="1.15"/>
<path class="k" d="M71.20 29.80H80.40" stroke-width="1.15"/>
<path class="k" d="M413.2 518.9H426.3M413.2 523.7H426.3" stroke-width="1.35"/>
<path class="k" d="M461.0 531.4L468.8 510.7" stroke-width="1.35"/>
<path class="k" d="M201.7 62.3H212.4M201.7 66H212.4" stroke-width="1.10"/>
<path class="k" d="M171 212.9H178.6" stroke-width="1.00"/>
<path class="k" d="M619.2 60.30H627.3" stroke-width="1.00"/>
<path class="k" d="M619.2 91.90H627.3" stroke-width="1.00"/>
<path class="k" d="M729.4 54.20V66.80M759.50 54.20V66.80" stroke-width="1.10"/>
<path class="k" d="M729.4 85.80V98.40M758.70 85.80V98.40" stroke-width="1.10"/>
<path class="k" d="M729.4 117.30V129.90M759.80 117.30V129.90" stroke-width="1.10"/>
</svg>
</body></html>
